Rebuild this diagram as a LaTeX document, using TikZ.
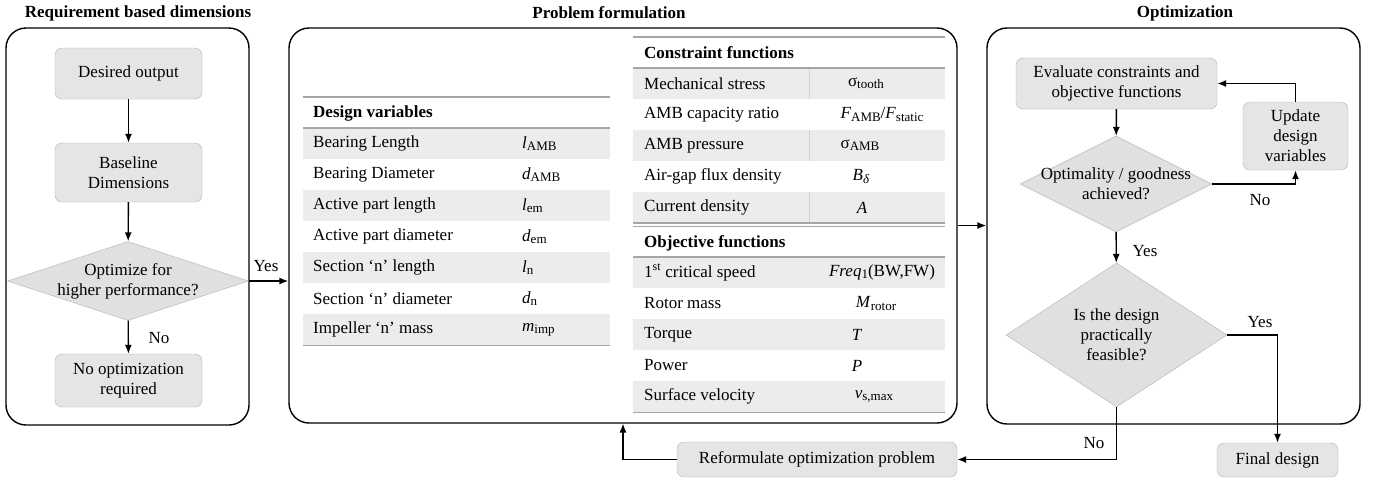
\documentclass[tikz,border=0pt]{standalone}
\usepackage{fontspec}
\setmainfont{Liberation Serif}
\usetikzlibrary{shapes.geometric,arrows.meta}
\newcommand\bfont{\fontsize{17}{20}\selectfont}
\newcommand\sbs[1]{\raisebox{-0.28ex}{\fontsize{13}{13}\selectfont #1}}
\begin{document}
\begin{tikzpicture}[x=1pt,y=-1pt,
  panel/.style={draw=black, line width=1.4pt, rounded corners=20pt, inner sep=0pt},
  box/.style={draw=gray!60, fill=gray!20, rounded corners=7pt, font=\bfont, align=center, inner sep=0pt},
  dia/.style={diamond, draw=gray!60, fill=gray!24, inner sep=0pt},
  txt/.style={font=\bfont, align=center, inner sep=0pt},
  arr/.style={-{Latex[length=9pt,width=7pt]}, line width=1.4pt},
  ttl/.style={font=\bfont\bfseries, inner sep=0pt},
  cell/.style={font=\bfont, anchor=west, inner sep=0pt},
  sym/.style={font=\bfont, inner sep=0pt},
  hdr/.style={font=\bfont\bfseries, anchor=west, inner sep=0pt},
  shade/.style={fill=gray!15, draw=none},
  rule/.style={draw=gray!70, line width=1.2pt}
]
\useasboundingbox (0,0) rectangle (1376,483);

% ---------- titles
\node[ttl] (t1) at (138,13) {Requirement based dimensions};
\node[ttl] (t2) at (609,13) {Problem formulation};
\node[ttl] (t3) at (1185,13) {Optimization};

% ---------- panels
\node[panel, minimum width=243, minimum height=397] (p1) at (127.5,226.5) {};
\node[panel, minimum width=668, minimum height=395] (p2) at (623,225.5) {};
\node[panel, minimum width=373, minimum height=396] (p3) at (1173.5,226) {};

% ---------- left panel
\node[box, minimum width=147, minimum height=51] (des) at (128.5,73.5) {Desired output};
\node[box, minimum width=147, minimum height=59] (base) at (128.5,172.5) {Baseline\\Dimensions};
\node[dia, minimum width=241, minimum height=79] (d0) at (128,281) {};
\node[txt] (d0t) at (128,281) {Optimize for\\higher performance?};
\node[box, minimum width=147, minimum height=53] (noopt) at (128.5,380.5) {No optimization\\required};
\draw[arr] (des) -- (base);
\draw[arr] (base) -- (d0);
\draw[arr] (d0) -- (noopt);
\node[txt] (lno0) at (159,338) {No};
\draw[arr] (d0.east) -- (d0.east -| p2.west);
\node[txt] (lyes0) at (266,266) {Yes};

% ---------- design variables table
\fill[shade] (303,128) rectangle (610,159);
\fill[shade] (303,190) rectangle (610,221);
\fill[shade] (303,252) rectangle (610,283);
\fill[shade] (303,314) rectangle (610,345.5);
\draw[rule] (303,97) -- (610,97);
\draw[rule] (303,128) -- (610,128);
\draw[rule] (303,345.5) -- (610,345.5);
\node[hdr] (dvh) at (313,113) {Design variables};
\node[cell] (dv1) at (313,143.5) {Bearing Length};
\node[cell] (dv2) at (313,174.5) {Bearing Diameter};
\node[cell] (dv3) at (313,205.5) {Active part length};
\node[cell] (dv4) at (313,236.5) {Active part diameter};
\node[cell] (dv5) at (313,267.5) {Section ‘n’ length};
\node[cell] (dv6) at (313,298.5) {Section ‘n’ diameter};
\node[cell] (dv7) at (313,329.5) {Impeller ‘n’ mass};
\node[cell] (sv1) at (522,143.5) {\textit{l}\sbs{AMB}};
\node[cell] (sv2) at (522,174.5) {\textit{d}\sbs{AMB}};
\node[cell] (sv3) at (522,205.5) {\textit{l}\sbs{em}};
\node[cell] (sv4) at (522,236.5) {\textit{d}\sbs{em}};
\node[cell] (sv5) at (522,267.5) {\textit{l}\sbs{n}};
\node[cell] (sv6) at (522,298.5) {\textit{d}\sbs{n}};
\node[cell] (sv7) at (522,329.5) {\textit{m}\sbs{imp}};

% ---------- constraint / objective table
\fill[shade] (633,68) rectangle (945,99);
\fill[shade] (633,130) rectangle (945,161);
\fill[shade] (633,192) rectangle (945,223);
\fill[shade] (633,257) rectangle (945,288);
\fill[shade] (633,319) rectangle (945,350);
\fill[shade] (633,381) rectangle (945,412.5);
\draw[draw=gray!35, line width=0.8pt] (809,68) -- (809,99) (809,130) -- (809,161) (809,192) -- (809,223);
\draw[rule] (633,37) -- (945,37);
\draw[rule] (633,68) -- (945,68);
\draw[rule] (633,223) -- (945,223);
\draw[rule] (633,226.5) -- (945,226.5);
\draw[rule] (633,257) -- (945,257);
\draw[rule] (633,412.5) -- (945,412.5);
\node[hdr] (cfh) at (644,53) {Constraint functions};
\node[cell] (cf1) at (644,83.5) {Mechanical stress};
\node[cell] (cf2) at (644,114.5) {AMB capacity ratio};
\node[cell] (cf3) at (644,145.5) {AMB pressure};
\node[cell] (cf4) at (644,176.5) {Air-gap flux density};
\node[cell] (cf5) at (644,207.5) {Current density};
\node[sym] (cs1) at (866,83.5) {σ\sbs{tooth}};
\node[sym] (cs2) at (882,114.5) {\textit{F}\sbs{AMB}/\textit{F}\sbs{static}};
\node[sym] (cs3) at (860,145.5) {σ\sbs{AMB}};
\node[sym] (cs4) at (861,176.5) {\textit{B}\sbs{\textit{δ}}};
\node[sym] (cs5) at (862,207.5) {\textit{A}};
\node[hdr] (ofh) at (644,243) {Objective functions};
\node[cell] (of1) at (644,272.5) {1\textsuperscript{st} critical speed};
\node[cell] (of2) at (644,303.5) {Rotor mass};
\node[cell] (of3) at (644,334.5) {Torque};
\node[cell] (of4) at (644,365.5) {Power};
\node[cell] (of5) at (644,396.5) {Surface velocity};
\node[sym] (os1) at (882,272.5) {\textit{Freq}\sbs{1}(BW,FW)};
\node[sym] (os2) at (876,303.5) {\textit{M}\sbs{rotor}};
\node[sym] (os3) at (857,334.5) {\textit{T}};
\node[sym] (os4) at (857,365.5) {\textit{P}};
\node[sym] (os5) at (874,396.5) {\textit{v}\sbs{s,max}};

\draw[arr] (p2.east) -- (p2.east -| p3.west);

% ---------- right panel
\node[box, minimum width=201, minimum height=51] (eval) at (1116.5,83.5) {Evaluate constraints and\\objective functions};
\node[box, minimum width=105, minimum height=68] (upd) at (1295.5,136) {Update\\design\\variables};
\node[dia, minimum width=192, minimum height=96] (d1) at (1116,184) {};
\node[txt] (d1t) at (1116,184) {Optimality / goodness\\achieved?};
\node[dia, minimum width=221, minimum height=144] (d2) at (1116.5,335) {};
\node[txt] (d2t) at (1116.5,335) {Is the design\\practically\\feasible?};
\node[box, minimum width=121, minimum height=34] (fin) at (1277.5,460) {Final design};
\node[box, minimum width=280, minimum height=35] (ref) at (817,459.5) {Reformulate optimization problem};

\draw[arr] (eval) -- (d1);
\draw[arr] (d1) -- (d2);
\draw[arr] (d1.east) -| (upd.south);
\draw[arr] (upd.north) |- (eval.east);
\draw[arr] (d2.east) -| (fin.north);
\draw[arr] (d2.south) |- (ref.east);
\coordinate (rp) at (623,423.5);
\draw[arr] (ref.west) -| (rp);

\node[txt] (lno1) at (1260,200) {No};
\node[txt] (lyes1) at (1145,251) {Yes};
\node[txt] (lyes2) at (1260,322) {Yes};
\node[txt] (lno2) at (1094,443) {No};
\end{tikzpicture}
\end{document}
